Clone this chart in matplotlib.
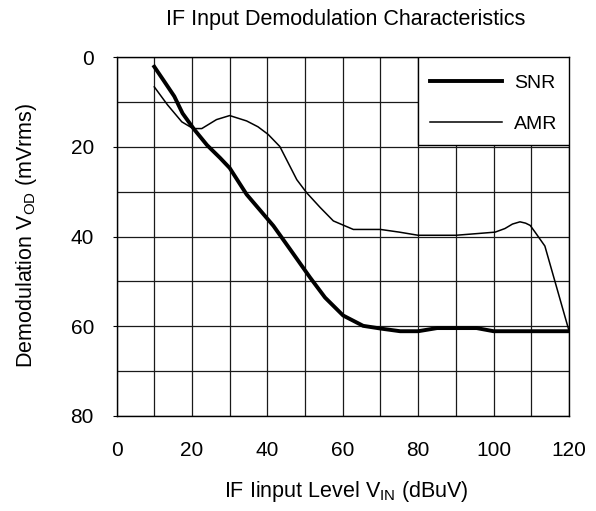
import numpy as np
import matplotlib
matplotlib.use("Agg")
import matplotlib.pyplot as plt
from matplotlib.patches import Rectangle

plt.rcParams['font.family'] = ['Liberation Sans', 'DejaVu Sans']
plt.rcParams['mathtext.fontset'] = 'custom'
plt.rcParams['mathtext.rm'] = 'Liberation Sans'
plt.rcParams['mathtext.default'] = 'regular'

# input level (dBuV) vs demodulation output (mVrms)
snr_x = [10, 12.5, 15.3, 17.5, 20.5, 24, 27.4, 30, 34.5, 41.6, 46, 51.3, 55.3,
         60.1, 65.4, 70, 75.2, 80, 85, 90, 95.5, 100, 110, 120]
snr_y = [2.1, 5.2, 8.7, 12.5, 16.0, 19.6, 22.4, 24.7, 30.6, 37.6, 42.8, 49.1, 53.6,
         57.6, 59.9, 60.5, 61.1, 61.1, 60.4, 60.4, 60.4, 61.1, 61.1, 61.1]

amr_x = [10, 13.5, 17.3, 20.3, 22.6, 26.5, 30, 34.5, 37.5, 40.2, 43.3, 47.8,
         50.4, 54, 57.5, 62.8, 70, 75, 80, 90, 96, 100.4, 103, 105, 107,
         108.5, 109.7, 111, 113.6, 120]
amr_y = [6.6, 10.6, 14.4, 15.9, 15.9, 13.9, 13.0, 14.2, 15.5, 17.2, 19.9, 27.3,
         30.2, 33.5, 36.5, 38.4, 38.4, 39.0, 39.7, 39.7, 39.3, 39.0, 38.2, 37.2, 36.7,
         37.0, 37.5, 39.0, 42.1, 61.0]

x_ticks = [0, 20, 40, 60, 80, 100, 120]
y_ticks = [0, 20, 40, 60, 80]

fig = plt.figure(figsize=(5.96, 5.11), dpi=100)
ax = fig.add_axes([0.1956, 0.186, 0.7591, 0.7019])

ax.plot(snr_x, snr_y, color='black', lw=2.8, solid_joinstyle='round', label='SNR', zorder=4)
ax.plot(amr_x, amr_y, color='black', lw=1.1, label='AMR', zorder=4)

ax.set_xlim(0, 120)
ax.set_ylim(80, 0)
ax.set_xticks(x_ticks)
ax.set_yticks(y_ticks)
ax.set_xticks(np.arange(0, 121, 10), minor=True)
ax.set_yticks(np.arange(0, 81, 10), minor=True)
ax.grid(True, which='both', color='#1a1a1a', lw=0.9)
ax.set_axisbelow(True)
ax.tick_params(axis='x', which='both', length=0, pad=18, labelsize=15)
ax.tick_params(axis='y', which='major', length=3, pad=13.3, labelsize=15)
ax.tick_params(axis='y', which='minor', length=0)
for s in ax.spines.values():
    s.set_color('black')
    s.set_linewidth(1.0)

# legend box sits in the top-right cell block and hides the grid there
ax.add_patch(Rectangle((80, 0), 40, 19.6, facecolor='white', edgecolor='black',
                       lw=1.0, zorder=3))
ax.legend(loc='center', bbox_to_anchor=(100, 10.3), bbox_transform=ax.transData,
          frameon=False, fontsize=14, handlelength=3.7, handletextpad=0.6,
          labelspacing=1.2)

fig.text(0.5807, 1 - 20 / 511, 'IF Input Demodulation Characteristics',
         ha='center', va='center', fontsize=15.5)
fig.text(27 / 596, 1 - 235 / 511, 'Demodulation V$_{OD}$ (mVrms)',
         rotation=90, ha='center', va='center', fontsize=15.5)
fig.text(0.5807, 1 - 491 / 511, 'IF Iinput Level V$_{IN}$ (dBuV)',
         ha='center', va='center', fontsize=15.5)

fig.savefig('out.png', dpi=100)
